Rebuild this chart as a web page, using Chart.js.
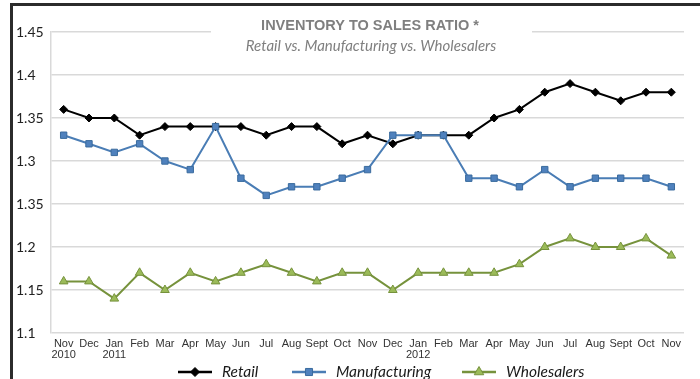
<!DOCTYPE html>
<html>
<head>
<meta charset="utf-8">
<script src="https://cdn.jsdelivr.net/npm/chart.js@4"></script>
<style>
  html, body { margin: 0; padding: 0; background: #fff; }
  #wrap { position: relative; width: 700px; height: 379px; overflow: hidden; }
  #frame { position: absolute; left: 10px; top: 3px; right: -10px; bottom: -10px;
           border-left: 3px solid #2b2b2b; border-top: 3px solid #2b2b2b; }
  canvas { position: absolute; left: 0; top: 0; }
</style>
</head>
<body>
<div id="wrap">
  <div id="frame"></div>
  <canvas id="ratioChart" width="700" height="379"></canvas>
</div>
<script>
const months = [["Nov", "2010"], "Dec", ["Jan", "2011"], "Feb", "Mar", "Apr", "May", "Jun", "Jul", "Aug", "Sept", "Oct",
                "Nov", "Dec", ["Jan", "2012"], "Feb", "Mar", "Apr", "May", "Jun", "Jul", "Aug", "Sept", "Oct", "Nov"];
const retail = [1.36, 1.35, 1.35, 1.33, 1.34, 1.34, 1.34, 1.34, 1.33, 1.34, 1.34, 1.32, 1.33,
                1.32, 1.33, 1.33, 1.33, 1.35, 1.36, 1.38, 1.39, 1.38, 1.37, 1.38, 1.38];
const manufacturing = [1.33, 1.32, 1.31, 1.32, 1.30, 1.29, 1.34, 1.28, 1.26, 1.27, 1.27, 1.28, 1.29,
                       1.33, 1.33, 1.33, 1.28, 1.28, 1.27, 1.29, 1.27, 1.28, 1.28, 1.28, 1.27];
const wholesalers = [1.16, 1.16, 1.14, 1.17, 1.15, 1.17, 1.16, 1.17, 1.18, 1.17, 1.16, 1.17, 1.17,
                     1.15, 1.17, 1.17, 1.17, 1.17, 1.18, 1.20, 1.21, 1.20, 1.20, 1.21, 1.19];
// tick labels as printed on the original (the 1.25 line is labelled 1.35 there)
const yTickValues = [1.1, 1.15, 1.2, 1.25, 1.3, 1.35, 1.4, 1.45];
const yTickLabels = ["1.1", "1.15", "1.2", "1.35", "1.3", "1.35", "1.4", "1.45"];
const seriesNames = ["Retail", "Manufacturing", "Wholesalers"];

const titlePlugin = {
  id: 'titleBox',
  afterDraw(chart) {
    const ctx = chart.ctx;
    ctx.save();
    ctx.fillStyle = '#fff';
    ctx.fillRect(211, 12, 321, 46);
    ctx.textAlign = 'center';
    ctx.textBaseline = 'alphabetic';
    ctx.fillStyle = '#7f7f7f';
    ctx.font = 'bold 14.5px "Liberation Sans Narrow", "Liberation Sans", sans-serif';
    ctx.fillText('INVENTORY TO SALES RATIO *', 370, 30);
    ctx.font = 'italic 15px Lato, sans-serif';
    ctx.fillText('Retail vs. Manufacturing vs. Wholesalers', 371, 51);
    ctx.restore();
  }
};

const legendPlugin = {
  id: 'lineLegend',
  afterDraw(chart) {
    const ctx = chart.ctx;
    const starts = [178, 292, 462];
    const y = 372;
    ctx.save();
    chart.data.datasets.forEach((ds, i) => {
      const x0 = starts[i];
      ctx.strokeStyle = ds.borderColor;
      ctx.lineWidth = 2.5;
      ctx.beginPath();
      ctx.moveTo(x0, y);
      ctx.lineTo(x0 + 34, y);
      ctx.stroke();
      ctx.fillStyle = ds.pointBackgroundColor;
      ctx.strokeStyle = ds.pointBorderColor;
      ctx.lineWidth = 1;
      Chart.helpers.drawPoint(ctx, {
        pointStyle: ds.pointStyle, radius: ds.pointRadius + 0.5, borderWidth: 1
      }, x0 + 17, y);
      ctx.fillStyle = '#1a1a1a';
      ctx.font = 'italic 15.5px Lato, sans-serif';
      ctx.textBaseline = 'middle';
      ctx.textAlign = 'left';
      ctx.fillText(seriesNames[i], x0 + 44, y);
    });
    ctx.restore();
  }
};

const ctx = document.getElementById('ratioChart').getContext('2d');
new Chart(ctx, {
  type: 'line',
  data: {
    labels: months,
    datasets: [
      { label: seriesNames[0], data: retail, order: 2, borderColor: '#000', borderWidth: 2,
        pointStyle: 'rectRot', pointRadius: 4, pointBackgroundColor: '#000', pointBorderColor: '#000', pointBorderWidth: 1 },
      { label: seriesNames[1], data: manufacturing, order: 1, borderColor: '#4a7db5', borderWidth: 2,
        pointStyle: 'rect', pointRadius: 4.5, pointBackgroundColor: '#4f81bd', pointBorderColor: '#3a6b9e', pointBorderWidth: 1 },
      { label: seriesNames[2], data: wholesalers, order: 3, borderColor: '#76923c', borderWidth: 2,
        pointStyle: 'triangle', pointRadius: 5, pointBackgroundColor: '#9bbb59', pointBorderColor: '#76923c', pointBorderWidth: 1 }
    ]
  },
  options: {
    responsive: false,
    animation: false,
    layout: { padding: { left: 16, top: 32, right: 16, bottom: 0 } },
    plugins: { legend: { display: false }, tooltip: { enabled: false } },
    elements: { line: { tension: 0 } },
    scales: {
      x: {
        offset: true,
        grid: { display: false, drawTicks: false },
        border: { display: false },
        afterFit: s => { s.height = 46; },
        ticks: {
          color: '#333', padding: 5, maxRotation: 0, autoSkip: false,
          font: { family: '"Liberation Sans Narrow", "Liberation Sans", sans-serif', size: 11, lineHeight: 1.05 }
        }
      },
      y: {
        min: 1.1, max: 1.45,
        afterFit: s => { s.width = 35; },
        afterBuildTicks: s => { s.ticks = yTickValues.map(v => ({ value: v })); },
        grid: { color: '#d9d9d9', lineWidth: 1.5, drawTicks: false },
        border: { display: true, color: '#d9d9d9', width: 1.5 },
        ticks: {
          color: '#222', padding: 8, crossAlign: 'far',
          font: { family: 'Lato, sans-serif', size: 14 },
          callback: (v, i) => yTickLabels[yTickValues.findIndex(t => Math.abs(t - v) < 1e-6)]
        }
      }
    }
  },
  plugins: [titlePlugin, legendPlugin]
});
</script>
</body>
</html>
